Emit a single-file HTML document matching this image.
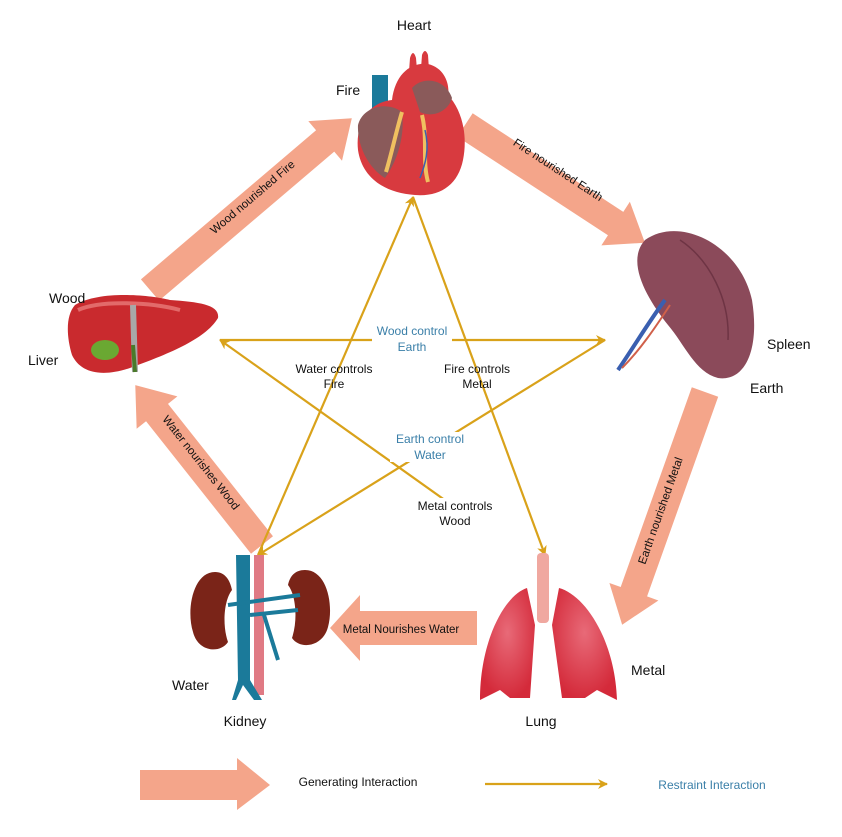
<!DOCTYPE html>
<html><head><meta charset="utf-8"><style>
html,body{margin:0;padding:0;background:#fff;}
svg{display:block;font-family:"Liberation Sans",sans-serif;}
</style></head><body>
<svg width="842" height="837" viewBox="0 0 842 837" xmlns="http://www.w3.org/2000/svg">
<rect width="842" height="837" fill="#fff"/>
<defs>
<marker id="ga" markerWidth="10" markerHeight="10" refX="9" refY="5" orient="auto" markerUnits="userSpaceOnUse"><path d="M0,0 L10,5 L0,10 L3,5 Z" fill="#d9a21a"/></marker>
<radialGradient id="lg" cx="50%" cy="40%" r="60%"><stop offset="0" stop-color="#e86a78"/><stop offset="1" stop-color="#d42a3a"/></radialGradient>
</defs>

<g fill="#f4a58a">
<g transform="translate(150,290) rotate(-40.4)"><polygon points="0,-14 230,-14 230,-26 265,0 230,26 230,14 0,14"/></g>
<g transform="translate(465,125) rotate(33.2)"><polygon points="0,-14 180,-14 180,-26 215,0 180,26 180,14 0,14"/></g>
<g transform="translate(705,392) rotate(109.6)"><polygon points="0,-14 212,-14 212,-26 247,0 212,26 212,14 0,14"/></g>
<g transform="translate(477,628) rotate(180)"><polygon points="0,-17 117,-17 117,-33 147,0 117,33 117,17 0,17"/></g>
<g transform="translate(262,545) rotate(231.6)"><polygon points="0,-14 169,-14 169,-26 204,0 169,26 169,14 0,14"/></g>
<polygon points="140,770 237,770 237,758 270,785 237,810 237,800 140,800"/>
</g>
<g font-size="11.5" fill="#111" text-anchor="middle">
<text transform="translate(255,200) rotate(-40.4)">Wood nourished Fire</text>
<text transform="translate(556,173) rotate(33.2)">Fire nourished Earth</text>
<text transform="translate(664,512) rotate(-70.4)">Earth nourished Metal</text>
<text x="401" y="633">Metal Nourishes Water</text>
<text transform="translate(198,465) rotate(51.6)">Water nourishes Wood</text>
</g>

<g stroke="#d9a21a" stroke-width="2.2" fill="none" marker-end="url(#ga)">
<line x1="220" y1="340" x2="605" y2="340"/>
<line x1="258" y1="555" x2="413" y2="197"/>
<line x1="413" y1="197" x2="545" y2="555"/>
<line x1="605" y1="340" x2="258" y2="555"/>
<line x1="470" y1="518" x2="220" y2="340"/>
<line x1="485" y1="784" x2="607" y2="784"/>
</g>
<g fill="#fff"><rect x="372" y="324" width="80" height="30"/><rect x="390" y="432" width="80" height="30"/><rect x="410" y="498" width="90" height="30"/></g>
<g font-size="12" text-anchor="middle">
<text x="412" y="335" fill="#3a7fa8">Wood control</text><text x="412" y="351" fill="#3a7fa8">Earth</text>
<text x="430" y="443" fill="#3a7fa8">Earth control</text><text x="430" y="459" fill="#3a7fa8">Water</text>
<text x="334" y="373" fill="#111">Water controls</text><text x="334" y="388" fill="#111">Fire</text>
<text x="477" y="373" fill="#111">Fire controls</text><text x="477" y="388" fill="#111">Metal</text>
<text x="455" y="510" fill="#111">Metal controls</text><text x="455" y="525" fill="#111">Wood</text>
</g>

<!-- heart -->
<rect x="372" y="75" width="16" height="40" fill="#1b7a9a"/>
<path d="M408,85 L410,58 Q413,48 416,58 L418,82 Z M420,82 L422,55 Q425,47 428,55 L430,85 Z" fill="#d83a3f"/>
<path d="M392,100 C395,75 410,62 428,64 C445,68 450,85 448,95 C462,110 468,135 463,160 C458,185 440,197 415,195 C385,193 362,178 358,150 C355,122 370,102 392,100Z" fill="#d83a3f"/>
<path d="M358,125 C362,108 385,100 402,112 C405,135 398,160 385,178 C368,168 357,145 358,125Z" fill="#8a5a5a"/>
<path d="M412,88 C422,76 445,78 452,98 C448,112 432,118 420,112Z" fill="#8a5a5a"/>
<path d="M422,115 C428,140 422,160 428,182" stroke="#f0c060" stroke-width="4" fill="none"/>
<path d="M402,112 C396,132 392,152 386,172" stroke="#f0c060" stroke-width="4" fill="none"/>
<path d="M425,130 C430,150 425,165 420,178" stroke="#3a5fb0" stroke-width="1.5" fill="none"/>

<!-- spleen -->
<path d="M645,240 C680,215 740,245 752,300 C760,350 745,382 718,378 C695,372 685,345 668,325 C648,300 625,262 645,240Z" fill="#8b4a5a"/>
<path d="M680,240 C710,260 730,300 728,340" stroke="#6e3444" stroke-width="1.5" fill="none"/>
<path d="M665,300 C650,320 635,345 618,370" stroke="#3a5fb0" stroke-width="4" fill="none"/>
<path d="M670,305 C655,328 640,350 622,368" stroke="#d0604a" stroke-width="2" fill="none"/>

<!-- liver -->
<path d="M75,305 C100,290 150,295 170,300 C200,302 220,305 218,318 C205,340 165,355 130,368 C100,378 80,372 72,355 C66,335 66,315 75,305Z" fill="#c92a2e"/>
<path d="M78,310 C100,300 150,302 180,310" stroke="#e26a6a" stroke-width="4" fill="none"/>
<ellipse cx="105" cy="350" rx="14" ry="10" fill="#6aa832"/>
<path d="M133,305 L135,372" stroke="#a8a8a8" stroke-width="6"/>
<path d="M133,345 L135,372" stroke="#4a7a2a" stroke-width="4"/>

<!-- kidney -->
<path d="M215,572 C193,572 186,610 193,632 C198,652 220,654 228,642 C222,625 224,600 232,590 C230,580 225,572 215,572Z" fill="#7a2418"/>
<path d="M305,570 C327,570 334,605 328,627 C323,647 300,650 292,638 C298,620 296,595 288,585 C290,576 295,570 305,570Z" fill="#7a2418"/>
<rect x="254" y="555" width="10" height="140" fill="#e07a84"/>
<path d="M236,555 L250,555 L250,680 L262,700 L254,700 L243,685 L236,700 L232,700 L238,680 Z" fill="#1b7a9a"/>
<path d="M228,605 L300,595 M250,615 L298,610 M264,615 L278,660" stroke="#1b7a9a" stroke-width="4" fill="none"/>

<!-- lung -->
<rect x="537" y="553" width="12" height="70" rx="4" fill="#f0a8a0"/>
<path d="M527,588 C505,595 480,640 480,700 L500,690 L510,698 L530,698 L535,625 Z" fill="url(#lg)"/>
<path d="M559,588 C585,595 615,640 617,700 L597,690 L585,698 L562,698 L552,625 Z" fill="url(#lg)"/>

<g font-size="14" fill="#111">
<text x="414" y="30" text-anchor="middle">Heart</text>
<text x="336" y="95">Fire</text>
<text x="49" y="303">Wood</text>
<text x="28" y="365">Liver</text>
<text x="767" y="349">Spleen</text>
<text x="750" y="393">Earth</text>
<text x="172" y="690">Water</text>
<text x="245" y="726" text-anchor="middle">Kidney</text>
<text x="631" y="675">Metal</text>
<text x="541" y="726" text-anchor="middle">Lung</text>
</g>
<text x="358" y="786" font-size="12" fill="#111" text-anchor="middle">Generating Interaction</text>
<text x="712" y="789" font-size="12" fill="#3a7fa8" text-anchor="middle">Restraint Interaction</text>
</svg>
</body></html>
